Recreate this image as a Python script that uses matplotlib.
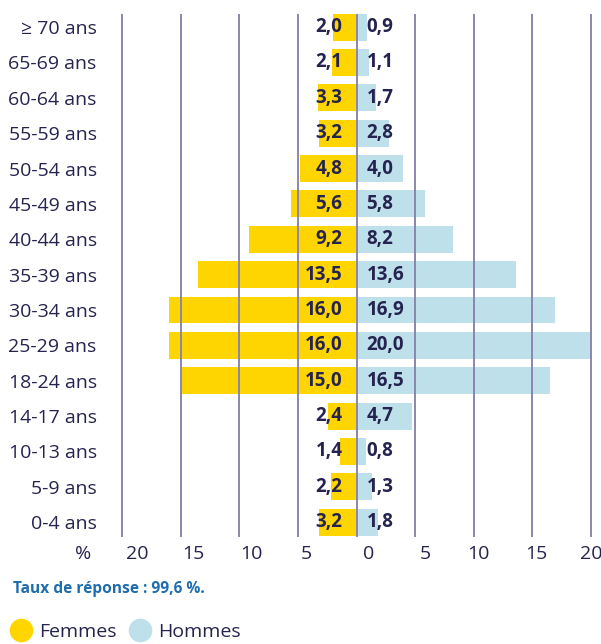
import matplotlib
matplotlib.use("Agg")
import matplotlib.pyplot as plt
import matplotlib.transforms as mtrans
from matplotlib.lines import Line2D

categories = ["≥ 70 ans", "65-69 ans", "60-64 ans", "55-59 ans", "50-54 ans",
              "45-49 ans", "40-44 ans", "35-39 ans", "30-34 ans", "25-29 ans",
              "18-24 ans", "14-17 ans", "10-13 ans", "5-9 ans", "0-4 ans"]
femmes = [2.0, 2.1, 3.3, 3.2, 4.8, 5.6, 9.2, 13.5, 16.0, 16.0, 15.0, 2.4, 1.4, 2.2, 3.2]
hommes = [0.9, 1.1, 1.7, 2.8, 4.0, 5.8, 8.2, 13.6, 16.9, 20.0, 16.5, 4.7, 0.8, 1.3, 1.8]
grid_values = [-20, -15, -10, -5, 0, 5, 10, 15, 20]
tick_texts = ["20", "15", "10", "5", "0", "5", "10", "15", "20"]
tick_label_pos = [-18.7, -13.9, -9.0, -4.3, 1.0, 5.9, 10.4, 15.3, 20.0]

YELLOW = "#FFD500"
BLUE = "#BEE0EB"
NAVY = "#25234F"
GRID = "#8A86AE"
NOTE_BLUE = "#1F6DAE"
FONT = "Open Sans"

fig = plt.figure(figsize=(6.01, 6.44), dpi=100)
ax = fig.add_axes([116.1 / 601, (644 - 537) / 644, 480.8 / 601, 523 / 644])

n = len(categories)
ypos = [n - 1 - i for i in range(n)]
h = 0.76
ax.barh(ypos, [-v for v in femmes], height=h, color=YELLOW, zorder=1)
ax.barh(ypos, hommes, height=h, color=BLUE, zorder=1)

for g in grid_values:
    ax.axvline(g, color=GRID, lw=1.4, zorder=2)

for y, f, m in zip(ypos, femmes, hommes):
    ax.text(-1.2, y, f"{f:.1f}".replace(".", ","), ha="right", va="center",
            fontsize=13.5, fontweight="bold", color=NAVY, family=FONT, zorder=3)
    ax.text(0.85, y, f"{m:.1f}".replace(".", ","), ha="left", va="center",
            fontsize=13.5, fontweight="bold", color=NAVY, family=FONT, zorder=3)

ax.set_xlim(-20.5, 20.5)
ax.set_ylim(-0.42, n - 1 + 0.37)
ax.set_yticks(ypos)
ax.set_yticklabels(categories, fontsize=14, color=NAVY, family=FONT)
ax.tick_params(axis="y", length=0, pad=14)
ax.set_xticks(tick_label_pos)
ax.set_xticklabels(tick_texts, fontsize=14, color=NAVY, family=FONT)
ax.tick_params(axis="x", length=0, pad=6)
for s in ax.spines.values():
    s.set_visible(False)

ax.text(-23.3, 0, "%", ha="center", va="top", fontsize=14, color=NAVY, family=FONT,
        clip_on=False,
        transform=ax.get_xaxis_transform() +
        mtrans.ScaledTranslation(0, -6 / 72, fig.dpi_scale_trans))

fig.text(13 / 601, 1 - 589 / 644, "Taux de réponse : 99,6 %.", ha="left", va="center",
         fontsize=11.2, fontweight="bold", color=NOTE_BLUE, family=FONT)

handles = [Line2D([], [], marker="o", ls="", markersize=16, color=YELLOW, label="Femmes"),
           Line2D([], [], marker="o", ls="", markersize=16, color=BLUE, label="Hommes")]
fig.legend(handles=handles, loc="center left", bbox_to_anchor=(9 / 601, 1 - 632 / 644),
           ncol=2, frameon=False, handletextpad=0.35, columnspacing=0.6,
           borderaxespad=0, handlelength=1.2, borderpad=0,
           prop={"family": FONT, "size": 14}, labelcolor=NAVY)

fig.savefig("out.png", dpi=100)
